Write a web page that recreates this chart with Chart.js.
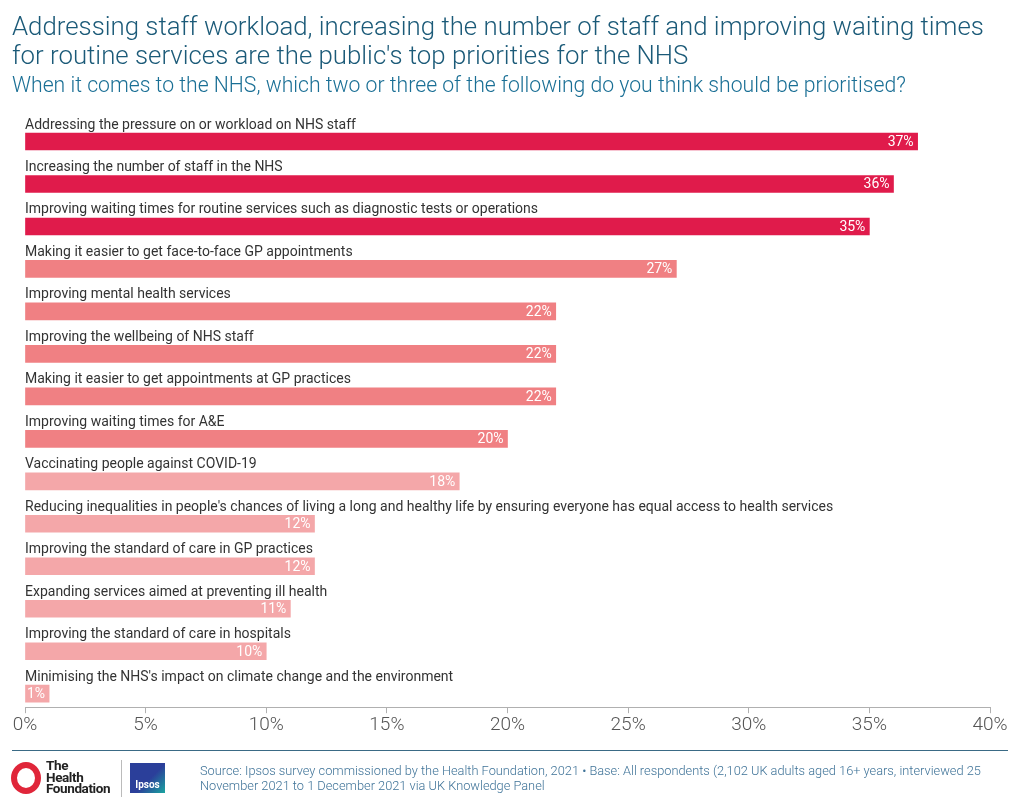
<!DOCTYPE html>
<html>
<head>
<meta charset="utf-8">
<script src="https://cdn.jsdelivr.net/npm/chart.js@4"></script>
<style>
  html, body { margin: 0; padding: 0; background: #fff; }
  #wrap { position: relative; width: 1020px; height: 809px; overflow: hidden; font-family: Roboto, "Liberation Sans", sans-serif; }
  #chart { position: absolute; left: 0; top: 0; }
  .title { position: absolute; left: 12px; top: 12px; margin: 0; font-weight: 300; font-size: 25.8px; line-height: 29px; color: #1b5a78; width: 1005px; white-space: nowrap; }
  .subtitle { position: absolute; left: 12px; top: 72px; margin: 0; font-weight: 300; font-size: 21.2px; color: #1a6f95; white-space: nowrap; }
  .rule { position: absolute; left: 12px; top: 750px; width: 996px; height: 1px; background: #3a6a85; }
  .ring { position: absolute; left: 11px; top: 762px; width: 18px; height: 20px; border: 6px solid #e0263a; border-radius: 50%; }
  .hf { position: absolute; left: 46px; top: 760px; font-weight: 700; font-size: 13.5px; line-height: 11.5px; color: #222; letter-spacing: -0.4px; }
  .sep { position: absolute; left: 121px; top: 760px; width: 1px; height: 37px; background: #bbb; }
  .ipsos { position: absolute; left: 130px; top: 763px; width: 35px; height: 30px; background: linear-gradient(135deg, #2b3f9a 0%, #2b3f9a 55%, #1aa6a0 100%); color: #fff; font-size: 10px; font-weight: 700; text-align: center; line-height: 44px; }
  .source { position: absolute; left: 200px; top: 763px; font-weight: 300; font-size: 12.8px; line-height: 15px; color: #3f7398; width: 815px; white-space: nowrap; }
</style>
</head>
<body>
<div id="wrap">
  <canvas id="chart" width="1020" height="809"></canvas>
  <p class="title">Addressing staff workload, increasing the number of staff and improving waiting times<br>for routine services are the public's top priorities for the NHS</p>
  <p class="subtitle">When it comes to the NHS, which two or three of the following do you think should be prioritised?</p>
  <div class="rule"></div>
  <div class="ring"></div>
  <div class="hf">The<br>Health<br>Foundation</div>
  <div class="sep"></div>
  <div class="ipsos">Ipsos</div>
  <div class="source">Source: Ipsos survey commissioned by the Health Foundation, 2021 &bull; Base: All respondents (2,102 UK adults aged 16+ years, interviewed 25<br>November 2021 to 1 December 2021 via UK Knowledge Panel</div>
</div>
<script>
// Data
var categories = [
  'Addressing the pressure on or workload on NHS staff',
  'Increasing the number of staff in the NHS',
  'Improving waiting times for routine services such as diagnostic tests or operations',
  'Making it easier to get face-to-face GP appointments',
  'Improving mental health services',
  'Improving the wellbeing of NHS staff',
  'Making it easier to get appointments at GP practices',
  'Improving waiting times for A&E',
  'Vaccinating people against COVID-19',
  "Reducing inequalities in people's chances of living a long and healthy life by ensuring everyone has equal access to health services",
  'Improving the standard of care in GP practices',
  'Expanding services aimed at preventing ill health',
  'Improving the standard of care in hospitals',
  "Minimising the NHS's impact on climate change and the environment"
];
var values = [37, 36, 35, 27, 22, 22, 22, 20, 18, 12, 12, 11, 10, 1];
var xTicks = [0, 5, 10, 15, 20, 25, 30, 35, 40];

function barColour(v) {
  if (v >= 30) return '#e01b4b';
  if (v >= 20) return '#f08083';
  return '#f4a7a9';
}

// category label above each bar, value label inside the bar end
var rowLabels = {
  id: 'rowLabels',
  afterDatasetsDraw: function(chart) {
    var ctx = chart.ctx;
    var xs = chart.scales.x, ys = chart.scales.y;
    ctx.save();
    categories.forEach(function(cat, i) {
      var y = ys.getPixelForValue(i);
      ctx.font = '400 14px Roboto, sans-serif';
      ctx.fillStyle = '#333';
      ctx.textAlign = 'left';
      ctx.textBaseline = 'alphabetic';
      ctx.fillText(cat, xs.left, y - 13);
      ctx.font = '400 14px Roboto, sans-serif';
      ctx.fillStyle = '#fff';
      ctx.textAlign = 'right';
      ctx.textBaseline = 'middle';
      ctx.fillText(values[i] + '%', xs.getPixelForValue(values[i]) - 4, y + 1);
    });
    ctx.restore();
  }
};

var ctx = document.getElementById('chart').getContext('2d');
var chart = new Chart(ctx, {
  type: 'bar',
  data: {
    datasets: [{
      data: values.map(function(v, i) { return { x: v, y: i }; }),
      backgroundColor: values.map(barColour),
      barThickness: 17,
      borderWidth: 0
    }]
  },
  options: {
    indexAxis: 'y',
    responsive: false,
    animation: false,
    layout: { padding: { left: 25, right: 30, top: 115, bottom: 71 } },
    scales: {
      y: {
        type: 'linear',
        bounds: 'data',
        offset: false,
        grid: { offset: false, display: false },
        reverse: true,
        min: -0.624,
        max: 13.318,
        display: false
      },
      x: {
        type: 'linear',
        min: 0,
        max: 40,
        afterBuildTicks: function(axis) {
          axis.ticks = xTicks.map(function(v) { return { value: v }; });
        },
        grid: { drawOnChartArea: false, drawTicks: true, tickLength: 6, color: '#b0b0b0' },
        border: { color: '#b0b0b0', width: 1 },
        ticks: {
          padding: 1,
          color: '#555',
          font: { family: 'Roboto', weight: '300', size: 19 },
          callback: function(v) { return v + '%'; }
        }
      }
    },
    plugins: {
      legend: { display: false },
      tooltip: { enabled: false }
    }
  },
  plugins: [rowLabels]
});
</script>
</body>
</html>
